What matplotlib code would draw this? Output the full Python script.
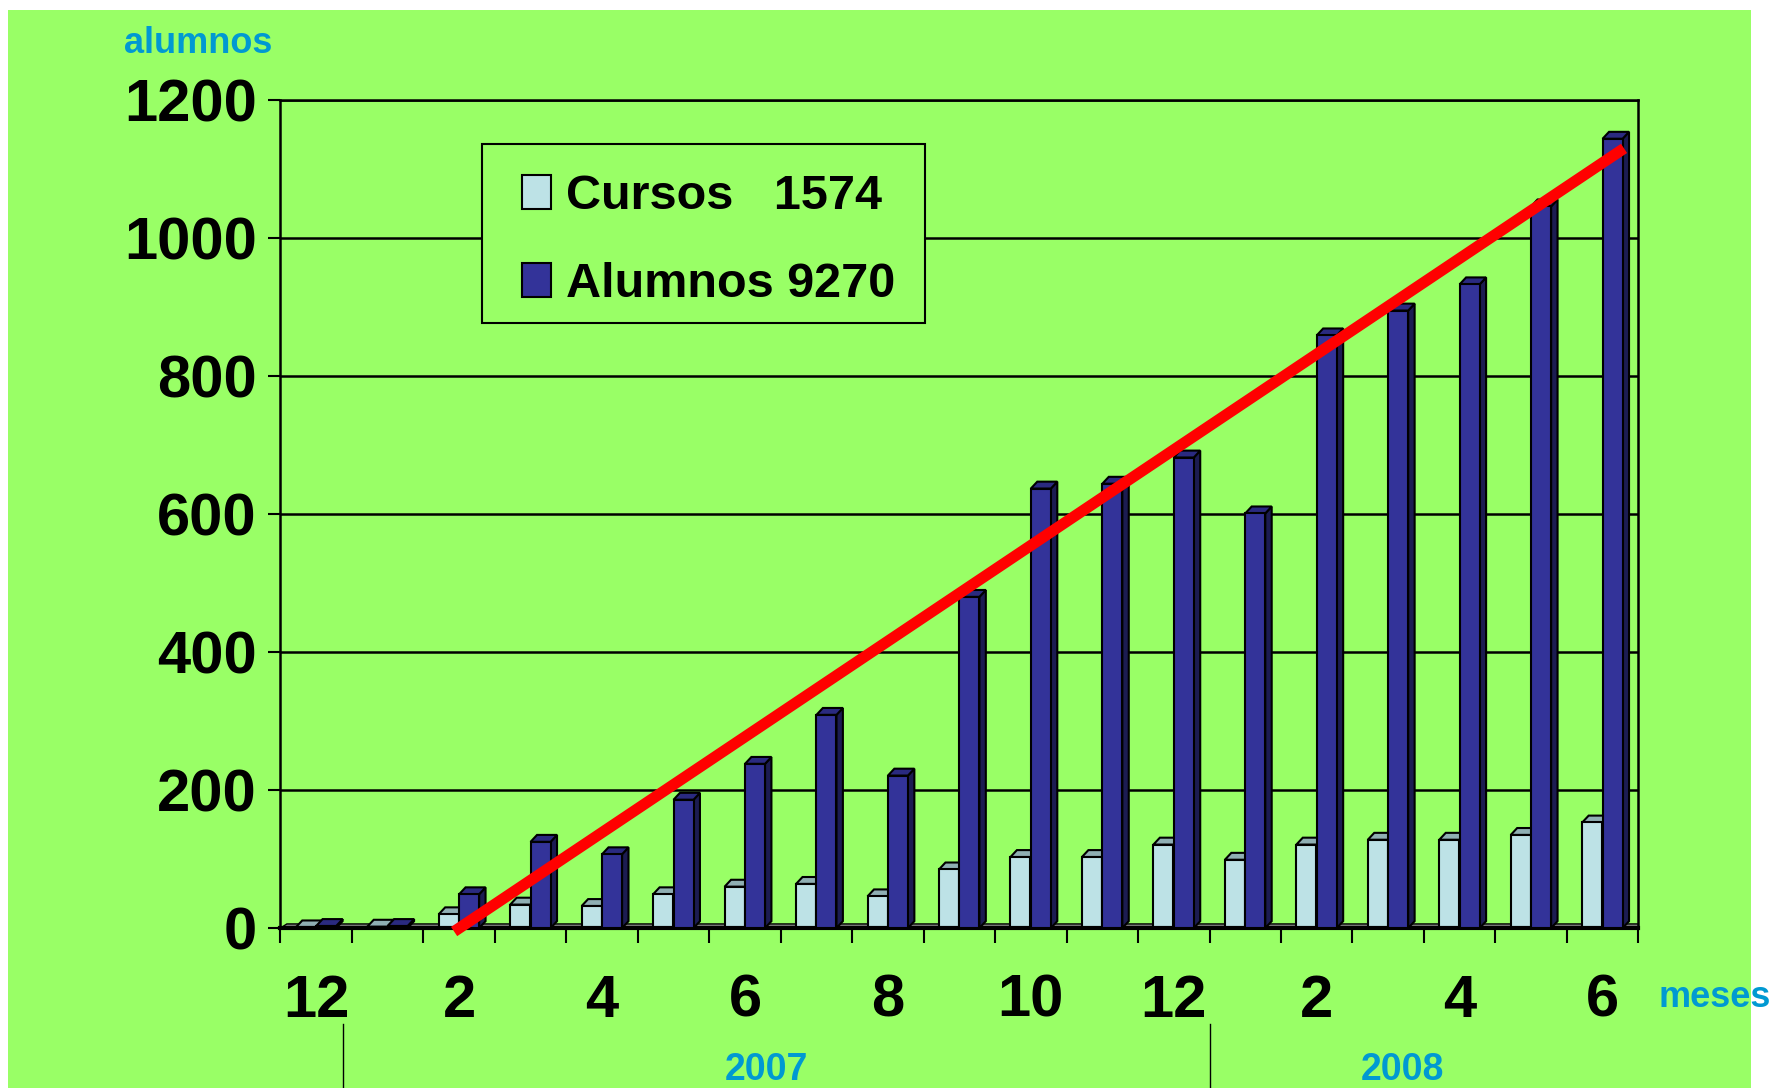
import matplotlib.pyplot as plt
from matplotlib.patches import Polygon, Rectangle, Patch
from matplotlib.transforms import blended_transform_factory

plt.rcParams['font.family'] = ['Liberation Sans', 'DejaVu Sans']
plt.rcParams['font.weight'] = 'bold'

# data (dic 2006 .. jun 2008)
meses = ['12', '1', '2', '3', '4', '5', '6', '7', '8', '9', '10', '11',
         '12', '1', '2', '3', '4', '5', '6']
cursos = [1, 2, 20, 34, 32, 49, 60, 64, 46, 85, 103, 103, 121, 99, 121, 128, 128, 135, 153]
alumnos = [3, 3, 49, 125, 107, 186, 238, 309, 221, 480, 637, 644, 682, 601, 859, 895, 933, 1046, 1144]
tick_labels = meses[::2]
years = ['2007', '2008']
year_pos = [6.3, 15.2]
year_breaks = [0.38, 12.5]
trend_x = [1.93, 18.3]
trend_y = [-5, 1130]

green = '#99FF66'
cyan = '#0099D2'
c_cur = ['#BDE2E6', '#8FAFB3', '#6E8A8E']   # front, top, side
c_alu = ['#333399', '#2A2A80', '#1C1C52']

fig = plt.figure(figsize=(17.75, 10.88), dpi=100, facecolor='white')
fig.patches.append(Rectangle((8 / 1775, 0), (1751 - 8) / 1775, 1 - 10 / 1088,
                             transform=fig.transFigure, facecolor=green,
                             edgecolor='none', zorder=-10))
ax = fig.add_axes([0.158, 0.147, 0.765, 0.761])
ax.set_facecolor(green)
ax.set_zorder(1)

w = 0.28
dx, dy = 0.09, 10


def bar3d(x, h, cols, z):
    l = x - w / 2
    ax.bar(x, h, width=w, color=cols[0], edgecolor='black', linewidth=1.5, zorder=z + 0.2)
    top = [(l, h), (l + w, h), (l + w + dx, h + dy), (l + dx, h + dy)]
    side = [(l + w, 0), (l + w + dx, dy), (l + w + dx, h + dy), (l + w, h)]
    ax.add_patch(Polygon(top, closed=True, facecolor=cols[1], edgecolor='black', lw=1.5, zorder=z + 0.1))
    ax.add_patch(Polygon(side, closed=True, facecolor=cols[2], edgecolor='black', lw=1.5, zorder=z))


n = len(meses)
# floor
ax.add_patch(Polygon([(-0.5, 0), (n - 0.5, 0), (n - 0.5 + dx, dy * 0.6), (-0.5 + dx, dy * 0.6)],
                     closed=True, facecolor='#808080', edgecolor='black', lw=1, zorder=1.5))
for i in range(n):
    bar3d(i - 0.145, cursos[i], c_cur, 2 + i * 0.01)
    bar3d(i + 0.14, alumnos[i], c_alu, 2.5 + i * 0.01)

ax.plot(trend_x, trend_y, color='#FF0000', lw=8, solid_capstyle='butt', zorder=10, clip_on=False)

ax.set_xlim(-0.5, n - 0.5)
ax.set_ylim(0, 1200)
ax.set_yticks(range(0, 1201, 200))
ax.yaxis.grid(True, color='black', lw=1.8)
ax.set_axisbelow(True)
ax.tick_params(axis='y', labelsize=43, length=9, width=1.5, pad=8, direction='out')

ax.set_xticks(range(0, n, 2))
ax.set_xticklabels(tick_labels)
ax.set_xticks([i - 0.5 for i in range(n + 1)], minor=True)
ax.tick_params(axis='x', which='major', labelsize=43, length=0, pad=33)
ax.tick_params(axis='x', which='minor', length=11, width=1.5, direction='out')
for lab in ax.get_xticklabels() + ax.get_yticklabels():
    lab.set_fontweight('bold')

for s in ['left', 'right', 'top']:
    ax.spines[s].set_linewidth(1.8)
ax.spines['bottom'].set_linewidth(3)

# years under the month labels
tr = blended_transform_factory(ax.transData, ax.transAxes)
for xb in year_breaks:
    ax.plot([xb, xb], [-0.116, -0.195], color='black', lw=1, transform=tr, clip_on=False)
for yl, xp in zip(years, year_pos):
    ax.text(xp, -0.172, yl, transform=tr, ha='center', va='center', fontsize=27,
            fontweight='bold', color=cyan)

ax.text(1.056, -0.084, 'meses', transform=ax.transAxes, ha='center', va='center',
        fontsize=26, fontweight='bold', color=cyan)
fig.text(0.1115, 0.960, 'alumnos', ha='center', va='center', fontsize=26,
         fontweight='bold', color=cyan)

# legend box drawn separately so the padding can match
ax.add_patch(Rectangle((0.1487, 0.7307), 0.3263, 0.2163, transform=ax.transAxes,
                       facecolor=green, edgecolor='black', lw=1.5, zorder=4.9))
handles = [Patch(facecolor=c_cur[0], edgecolor='black', lw=1.5),
           Patch(facecolor=c_alu[0], edgecolor='black', lw=1.5)]
leg = ax.legend(handles, ['Cursos   1574', 'Alumnos 9270'], loc='center left',
                bbox_to_anchor=(0.178, 0.830), frameon=False,
                handlelength=0.6, handleheight=0.7, handletextpad=0.3, labelspacing=0.88,
                borderpad=0, borderaxespad=0, prop={'weight': 'bold', 'size': 35})
leg.set_zorder(5)

fig.savefig('out.png', dpi=100, facecolor=fig.get_facecolor())
